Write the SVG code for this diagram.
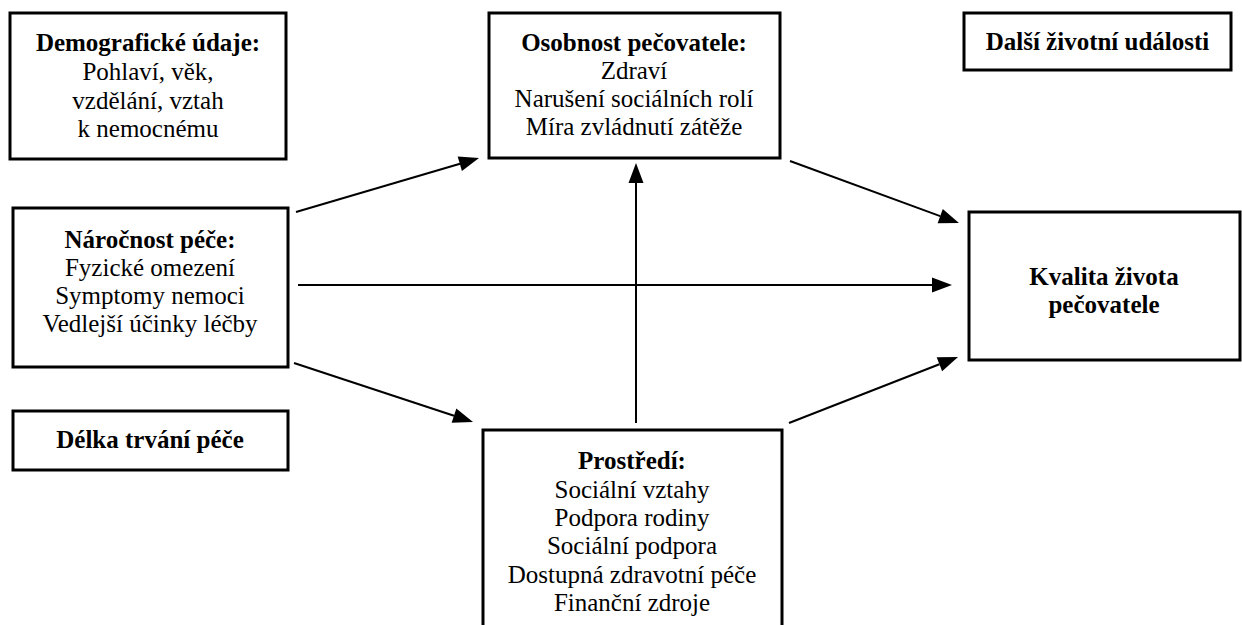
<svg xmlns="http://www.w3.org/2000/svg" width="1242" height="625" viewBox="0 0 1242 625">
<style>
.box{fill:#fff;stroke:#000;stroke-width:3}
.con{stroke:#000;stroke-width:2;fill:none}
.t{font-family:'Liberation Serif',serif;font-size:25px;text-anchor:middle;fill:#000}
.b{font-weight:bold}
</style>
<defs>
<path id="head" d="M0,-7.5 L20,0 L0,7.5 Z" fill="#000"/>
</defs>
<rect width="1242" height="625" fill="#fff"/>
<g id="demograficke">
<rect class="box" x="10" y="13" width="276" height="146"/>
<text class="t b" x="148" y="51">Demografické údaje:</text>
<text class="t" x="148" y="80">Pohlaví, věk,</text>
<text class="t" x="148" y="108.5">vzdělání, vztah</text>
<text class="t" x="148" y="137">k nemocnému</text>
</g>
<g id="osobnost">
<rect class="box" x="489" y="13" width="291" height="145"/>
<text class="t b" x="634" y="51">Osobnost pečovatele:</text>
<text class="t" x="634" y="79">Zdraví</text>
<text class="t" x="634" y="107">Narušení sociálních rolí</text>
<text class="t" x="634" y="135">Míra zvládnutí zátěže</text>
</g>
<g id="dalsi">
<rect class="box" x="964" y="13" width="267" height="57"/>
<text class="t b" x="1097.5" y="50">Další životní události</text>
</g>
<g id="kvalita">
<rect class="box" x="969" y="212" width="271" height="148"/>
<text class="t b" x="1104" y="285">Kvalita života</text>
<text class="t b" x="1104" y="313">pečovatele</text>
</g>
<g id="narocnost">
<rect class="box" x="13" y="208" width="275" height="159"/>
<text class="t b" x="150" y="247.5">Náročnost péče:</text>
<text class="t" x="150" y="275.5">Fyzické omezení</text>
<text class="t" x="150" y="304">Symptomy nemoci</text>
<text class="t" x="150" y="332">Vedlejší účinky léčby</text>
</g>
<g id="delka">
<rect class="box" x="13" y="411" width="275" height="59"/>
<text class="t b" x="150" y="448">Délka trvání péče</text>
</g>
<g id="prostredi">
<rect class="box" x="483" y="430" width="299" height="220"/>
<text class="t b" x="632" y="469">Prostředí:</text>
<text class="t" x="632" y="497.5">Sociální vztahy</text>
<text class="t" x="632" y="525.5">Podpora rodiny</text>
<text class="t" x="632" y="554">Sociální podpora</text>
<text class="t" x="632" y="582.5">Dostupná zdravotní péče</text>
<text class="t" x="632" y="611">Finanční zdroje</text>
</g>
<g id="connectors">
<line class="con" x1="296" y1="212" x2="460" y2="163.7"/>
<use href="#head" transform="translate(459.8,163.7) rotate(-16.44)"/>
<line class="con" x1="298" y1="285" x2="932" y2="285"/>
<use href="#head" transform="translate(932,285)"/>
<line class="con" x1="294" y1="363" x2="454" y2="415.7"/>
<use href="#head" transform="translate(454,415.7) rotate(18.24)"/>
<line class="con" x1="636" y1="423" x2="636" y2="183"/>
<use href="#head" transform="translate(636,183) rotate(-90)"/>
<line class="con" x1="790" y1="161" x2="940.2" y2="216.1"/>
<use href="#head" transform="translate(940.2,216.1) rotate(20.15)"/>
<line class="con" x1="789" y1="423" x2="939.4" y2="364.3"/>
<use href="#head" transform="translate(939.4,364.3) rotate(-21.33)"/>
</g>
</svg>
